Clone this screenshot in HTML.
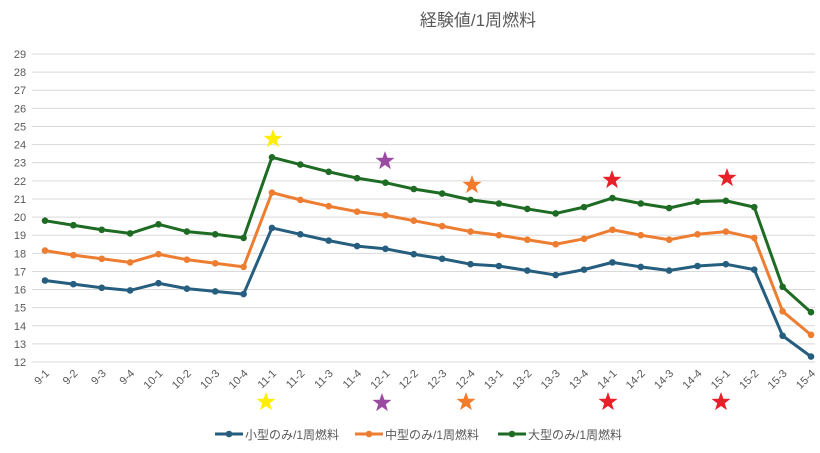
<!DOCTYPE html>
<html><head><meta charset="utf-8"><style>
body{margin:0;background:#fff;width:820px;height:448px;overflow:hidden}
svg text{font-family:"Liberation Sans","Noto Sans CJK JP",sans-serif;fill:#595959}
</style></head><body>
<svg id="c" width="820" height="448" xmlns="http://www.w3.org/2000/svg"></svg>
<script>
const s=document.getElementById('c');let h='';
const Y=v=>54+(29-v)*18.12, X=i=>45+i*28.37;
h+='<text x="478" y="26" font-size="17" text-anchor="middle">経験値/1周燃料</text>';
for(let v=12;v<=29;v++){h+=`<line x1="32" x2="815" y1="${Y(v)}" y2="${Y(v)}" stroke="#d9d9d9" stroke-width="1"/>`;
h+=`<text x="20" y="${Y(v)+4}" font-size="11" text-anchor="middle">${v}</text>`;}
const L=['9-1','9-2','9-3','9-4','10-1','10-2','10-3','10-4','11-1','11-2','11-3','11-4','12-1','12-2','12-3','12-4','13-1','13-2','13-3','13-4','14-1','14-2','14-3','14-4','15-1','15-2','15-3','15-4'];
L.forEach((l,i)=>{h+=`<text font-size="11" text-anchor="end" transform="translate(${X(i)+5},${374}) rotate(-45)">${l}</text>`});
const D=[[ '#255e7e',[16.5,16.3,16.1,15.95,16.35,16.05,15.9,15.75,19.4,19.05,18.7,18.4,18.25,17.95,17.7,17.4,17.3,17.05,16.8,17.1,17.5,17.25,17.05,17.3,17.4,17.1,13.45,12.3]],
['#ed7d31',[18.15,17.9,17.7,17.5,17.95,17.65,17.45,17.25,21.35,20.95,20.6,20.3,20.1,19.8,19.5,19.2,19.0,18.75,18.5,18.8,19.3,19.0,18.75,19.05,19.2,18.85,14.8,13.5]],
['#1e6b23',[19.8,19.55,19.3,19.1,19.6,19.2,19.05,18.85,23.3,22.9,22.5,22.15,21.9,21.55,21.3,20.95,20.75,20.45,20.2,20.55,21.05,20.75,20.5,20.85,20.9,20.55,16.15,14.75]]];
D.forEach(([c,d])=>{h+=`<polyline fill="none" stroke="${c}" stroke-width="3" stroke-linejoin="round" points="${d.map((v,i)=>X(i)+','+Y(v)).join(' ')}"/>`;
d.forEach((v,i)=>h+=`<circle cx="${X(i)}" cy="${Y(v)}" r="3.3" fill="${c}"/>`)});
const star=(x,y,c,r=10)=>{let p=[];for(let k=0;k<10;k++){const a=-Math.PI/2+k*Math.PI/5,rr=k%2?r*0.4:r;p.push((x+rr*Math.cos(a)).toFixed(1)+','+(y+rr*Math.sin(a)).toFixed(1))}h+=`<polygon points="${p.join(' ')}" fill="${c}"/>`};
[[273,139,'#ffee00'],[266,402,'#ffee00'],[385,161,'#9b4aa2'],[382,403,'#9b4aa2'],[472,185,'#f47b2a'],[466,402,'#f47b2a'],[612,180,'#e8202a'],[608,402,'#e8202a'],[727,178,'#e8202a'],[721,402,'#e8202a']].forEach(a=>star(...a));
const lg=[['#255e7e',215,'小型のみ/1周燃料'],['#ed7d31',355,'中型のみ/1周燃料'],['#1e6b23',498,'大型のみ/1周燃料']];
lg.forEach(([c,x,t])=>{h+=`<line x1="${x}" x2="${x+28}" y1="434" y2="434" stroke="${c}" stroke-width="3"/><circle cx="${x+14}" cy="434" r="3.3" fill="${c}"/><text x="${x+30}" y="439" font-size="12">${t}</text>`});
s.innerHTML=h;
</script>
</body></html>
